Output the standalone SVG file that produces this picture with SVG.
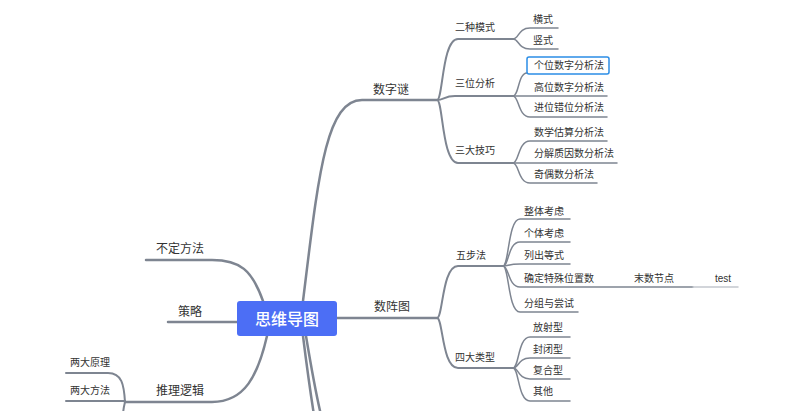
<svg xmlns="http://www.w3.org/2000/svg" width="800" height="411" viewBox="0 0 800 411">
<style>
  text{font-family:"Liberation Sans","Noto Sans CJK SC",sans-serif;fill:#333;}
  .l1{font-size:12px;}
  .l2{font-size:10px;}
  .l3{font-size:10px;}
  .c{fill:none;stroke:#7e8591;stroke-linecap:round;}
  .w1{stroke-width:2.5;}
  .w2{stroke-width:2;}
  .w3{stroke-width:1.5;}
  .lt{stroke:#c4c8ce;}
  .root{font-size:16px;fill:#fff;font-weight:500;}
</style>
<rect width="800" height="411" fill="#fff"/>
<g id="connectors">
  <!-- root to main branches -->
  <path class="c w1" d="M303,301 C318,180 325,100 362,100 H437"/>
  <path class="c w1" d="M337,318 H437"/>
  <path class="c w1" d="M263,301 C252,270 240,260 212,260 H146"/>
  <path class="c w1" d="M237,322 H168"/>
  <path class="c w1" d="M267,336 C258,375 245,402 212,402 H125"/>
  <path class="c w1" d="M303,336 C306,360 310,390 314,415"/>
  <path class="c w1" d="M306,336 C310,360 315,390 321,415"/>
  <!-- 数字谜 -->
  <path class="c w2" d="M437,100 C443,100 442,39 458,39 H513"/>
  <path class="c w2" d="M437,100 C444,100 444,96 455,96 H513"/>
  <path class="c w2" d="M437,100 C443,100 442,163 458,163 H513"/>
  <path class="c w3" d="M513,39 C519,39 518,28 530,28 H558"/>
  <path class="c w3" d="M513,39 C519,39 518,49 530,49 H558"/>
  <path class="c w3" d="M513,96 C519,96 518,73 527,73"/>
  <path class="c w3" d="M513,96 H607"/>
  <path class="c w3" d="M513,96 C519,96 518,117 530,117 H607"/>
  <path class="c w3" d="M513,163 C519,163 518,141 530,141 H607"/>
  <path class="c w3" d="M513,163 H617"/>
  <path class="c w3" d="M513,163 C519,163 518,183 530,183 H597"/>
  <!-- 数阵图 -->
  <path class="c w2" d="M437,318 C443,318 442,266 458,266 H503"/>
  <path class="c w2" d="M437,318 C443,318 442,368 458,368 H513"/>
  <path class="c w3" d="M503,266 C509,266 508,219 520,219 H570"/>
  <path class="c w3" d="M503,266 C509,266 508,242 520,242 H570"/>
  <path class="c w3" d="M503,266 C509,266 508,264 520,264 H570"/>
  <path class="c w3" d="M503,266 C509,266 508,287 520,287 H693"/>
  <path class="c w3 lt" d="M693,287 H738"/>
  <path class="c w3" d="M503,266 C509,266 508,312 520,312 H578"/>
  <path class="c w3" d="M513,368 C519,368 518,337 530,337 H570"/>
  <path class="c w3" d="M513,368 C519,368 518,358 530,358 H570"/>
  <path class="c w3" d="M513,368 C519,368 518,379 530,379 H570"/>
  <path class="c w3" d="M513,368 C519,368 518,401 530,401 H570"/>
  <!-- 推理逻辑 -->
  <path class="c w2" d="M125,402 C124,385 122,373 108,373 H66"/>
  <path class="c w2" d="M125,401 H66"/>
  <path class="c w2" d="M125,402 C124,406 123,410 123,416"/>
</g>
<g id="root">
  <rect x="237" y="301" width="100" height="35" rx="3" fill="#4c6ef5"/>
  <text class="root" x="287" y="324.5" text-anchor="middle">思维导图</text>
</g>
<g id="n-shuzimi"><text class="l1" x="373" y="94">数字谜</text></g>
<g id="n-erzhong"><text class="l2" x="455" y="30.5">二种模式</text></g>
<g id="n-hengshi"><text class="l3" x="533" y="23">横式</text></g>
<g id="n-shushi"><text class="l3" x="533" y="44">竖式</text></g>
<g id="n-sanwei"><text class="l2" x="455" y="87">三位分析</text></g>
<g id="n-gewei">
  <rect x="527" y="57" width="82" height="17" rx="2" fill="#fff" stroke="#2b8de6" stroke-width="1.5"/>
  <text class="l3" x="534" y="69">个位数字分析法</text>
</g>
<g id="n-gaowei"><text class="l3" x="534" y="91">高位数字分析法</text></g>
<g id="n-jinwei"><text class="l3" x="534" y="111">进位错位分析法</text></g>
<g id="n-sanda"><text class="l2" x="455" y="154">三大技巧</text></g>
<g id="n-gusuan"><text class="l3" x="534" y="136">数学估算分析法</text></g>
<g id="n-fenjie"><text class="l3" x="534" y="157">分解质因数分析法</text></g>
<g id="n-jiou"><text class="l3" x="534" y="178">奇偶数分析法</text></g>
<g id="n-shuzhentu"><text class="l1" x="374" y="311">数阵图</text></g>
<g id="n-wubu"><text class="l2" x="456" y="258.5">五步法</text></g>
<g id="n-zhengti"><text class="l3" x="524" y="215">整体考虑</text></g>
<g id="n-geti"><text class="l3" x="524" y="237">个体考虑</text></g>
<g id="n-liechu"><text class="l3" x="524" y="258.5">列出等式</text></g>
<g id="n-queding"><text class="l3" x="524" y="282">确定特殊位置数</text></g>
<g id="n-moshu"><text class="l3" x="634" y="282">末数节点</text></g>
<g id="n-test"><text class="l3" x="715" y="282">test</text></g>
<g id="n-fenzu"><text class="l3" x="524" y="307">分组与尝试</text></g>
<g id="n-sida"><text class="l2" x="455" y="360.5">四大类型</text></g>
<g id="n-fangshe"><text class="l3" x="533" y="331">放射型</text></g>
<g id="n-fengbi"><text class="l3" x="533" y="352.5">封闭型</text></g>
<g id="n-fuhe"><text class="l3" x="533" y="373.5">复合型</text></g>
<g id="n-qita"><text class="l3" x="533" y="395">其他</text></g>
<g id="n-buding"><text class="l1" x="156" y="253">不定方法</text></g>
<g id="n-celue"><text class="l1" x="178" y="316">策略</text></g>
<g id="n-tuili"><text class="l1" x="156" y="395">推理逻辑</text></g>
<g id="n-yuanli"><text class="l2" x="70" y="365.5">两大原理</text></g>
<g id="n-fangfa"><text class="l2" x="70" y="393.5">两大方法</text></g>
</svg>
